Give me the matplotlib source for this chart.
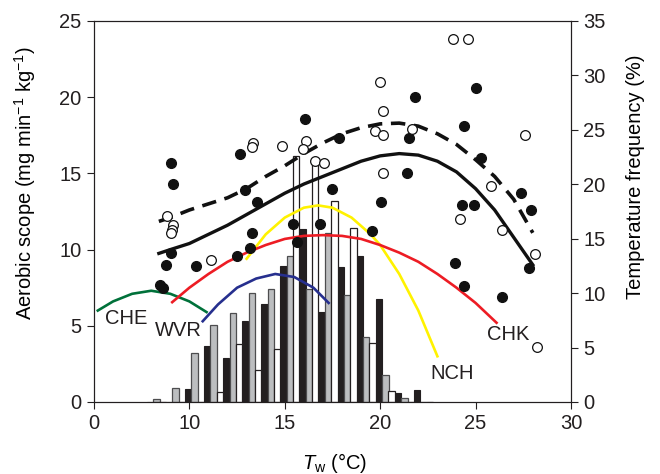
"""Aerobic scope vs water temperature with temperature frequency histogram"""
import matplotlib
matplotlib.use('Agg')
import matplotlib.pyplot as plt

plt.rcParams['font.family'] = ['Liberation Sans', 'DejaVu Sans']
plt.rcParams['mathtext.fontset'] = 'custom'
plt.rcParams['mathtext.rm'] = 'Liberation Sans'
plt.rcParams['mathtext.it'] = 'Liberation Sans:italic'

# temperature frequency (%) per 1 degC bin, three series
bin_temp = [8, 9, 10, 11, 12, 13, 14, 15, 16, 17, 18, 19, 20, 21, 22]
freq_black = [0, 0, 1.2, 5.1, 4.0, 7.4, 9.0, 12.5, 15.9, 8.3, 12.4, 13.4, 9.5, 0.8, 1.1]
freq_gray = [0.25, 1.3, 4.5, 7.1, 8.2, 10.0, 10.4, 13.4, 10.4, 15.5, 9.8, 6.0, 2.5, 0.4, 0]
freq_white = [0, 0, 0, 0.9, 5.3, 2.9, 4.9, 22.6, 22.0, 18.5, 16.0, 5.4, 1.0, 0, 0]

# individual aerobic scope measurements
filled_t = [9.04, 9.14, 9.04, 8.77, 10.35, 8.46, 8.6, 12.5, 12.65, 12.9, 13.54, 13.28, 13.2,
            15.43, 15.64, 16.85, 16.06, 17.84, 17.5, 20.04, 19.57, 21.4, 21.5, 21.8, 25.0,
            24.4, 25.3, 24.3, 24.9, 27.4, 27.9, 23.9, 24.4, 26.4, 27.8]
filled_as = [15.7, 14.3, 9.8, 9.0, 8.9, 7.7, 7.5, 9.6, 16.3, 13.9, 13.15, 11.1, 10.1,
             11.65, 10.5, 11.7, 18.6, 17.3, 14.0, 13.15, 11.25, 15.0, 17.3, 20.0, 20.6,
             18.1, 16.0, 12.9, 12.9, 13.7, 12.6, 9.1, 7.6, 6.9, 8.8]
open_t = [8.83, 9.14, 9.09, 9.04, 11.13, 13.33, 13.28, 14.85, 16.1, 15.95, 16.6, 17.05,
          19.73, 20.15, 20.0, 20.15, 21.67, 20.15, 23.8, 24.6, 27.6, 25.8, 24.2, 26.4,
          28.1, 28.2]
open_as = [12.2, 11.6, 11.3, 11.1, 9.3, 17.0, 16.7, 16.8, 17.1, 16.6, 15.8, 15.7,
           17.8, 17.5, 21.0, 19.1, 17.9, 15.0, 23.8, 23.8, 17.5, 14.2, 12.0, 11.3,
           9.7, 3.6]

# fitted curves for the pooled data
fit_t = [8.4, 9, 10, 11, 12, 13, 14, 15, 16, 17, 18, 19, 20, 21, 22, 23, 24, 25, 26, 27, 28]
fit_solid = [9.75, 10.0, 10.4, 11.0, 11.6, 12.3, 13.0, 13.7, 14.3, 14.8, 15.3, 15.8,
             16.15, 16.3, 16.2, 15.8, 15.1, 14.0, 12.6, 10.8, 9.0]
fit_dashed = [11.85, 12.1, 12.6, 13.0, 13.4, 14.0, 14.8, 15.5, 16.3, 17.0, 17.6, 18.0,
              18.25, 18.3, 18.1, 17.6, 16.9, 15.9, 14.8, 13.3, 11.1]

# population curves
che_t = [5.2, 6, 7, 8, 9, 10, 10.9]
che_as = [6.0, 6.6, 7.1, 7.3, 7.1, 6.6, 5.9]
wvr_t = [10.7, 11.5, 12.5, 13.5, 14.5, 15.5, 16.5, 17.3]
wvr_as = [5.3, 6.4, 7.5, 8.1, 8.4, 8.2, 7.5, 6.5]
nch_t = [13.0, 14, 15, 16, 16.75, 17.5, 18.5, 19.5, 20, 21, 22, 23]
nch_as = [9.4, 11.0, 12.1, 12.75, 12.9, 12.75, 12.1, 11.0, 10.3, 8.4, 6.0, 3.0]
chk_t = [9.1, 10, 11, 12, 13, 14, 15, 16, 17, 18, 19, 20, 21, 22, 23, 24, 25, 26.1]
chk_as = [6.55, 7.5, 8.4, 9.2, 9.8, 10.3, 10.7, 10.9, 10.95, 10.9, 10.7, 10.3, 9.8,
          9.2, 8.4, 7.5, 6.5, 5.2]

x_ticks = [5, 10, 15, 20, 25, 30]
x_ticklabels = ['0', '10', '15', '20', '25', '30']

label_fs = 14.5
bw = 1.0 / 3

fig = plt.figure(figsize=(6.6, 4.74), dpi=100, facecolor='w')
# histogram axis (drawn underneath), its scale shown on the right
axf = fig.add_axes([0.1424, 0.1519, 0.7227, 0.8038])
ax = axf.twinx()

axf.bar([t - 0.07 for t in bin_temp], freq_black, width=bw, color='#231f20',
        edgecolor='#231f20', linewidth=0.8)
axf.bar([t + 0.27 for t in bin_temp], freq_gray, width=bw, color='#bcbec0',
        edgecolor='#4d4d4f', linewidth=0.9)
axf.bar([t + 0.60 for t in bin_temp], freq_white, width=bw, color='white',
        edgecolor='#231f20', linewidth=0.9)

# fits and population curves
ax.plot(fit_t, fit_solid, '-', color='#111111', lw=2.4)
ax.plot(fit_t, fit_dashed, '--', color='#111111', lw=2.6, dashes=(4, 2.4))
ax.plot(che_t, che_as, '-', color='#00713a', lw=1.9)
ax.plot(wvr_t, wvr_as, '-', color='#262f8e', lw=1.9)
ax.plot(nch_t, nch_as, '-', color='#fff200', lw=1.9)
ax.plot(chk_t, chk_as, '-', color='#ed1c24', lw=1.9)

ax.plot(filled_t, filled_as, 'o', color='#111111', ms=7, mec='#111111')
ax.plot(open_t, open_as, 'o', mfc='white', mec='#111111', ms=7, mew=0.9)

ax.text(6.7, 5.5, 'CHE', fontsize=label_fs, ha='center', va='center', color='#231f20')
ax.text(9.4, 4.7, 'WVR', fontsize=label_fs, ha='center', va='center', color='#231f20')
ax.text(23.75, 1.9, 'NCH', fontsize=label_fs, ha='center', va='center', color='#231f20')
ax.text(26.7, 4.4, 'CHK', fontsize=label_fs, ha='center', va='center', color='#231f20')

ax.set_xlim(5, 30)
ax.set_ylim(0, 25)
axf.set_ylim(0, 35)
ax.set_xticks(x_ticks)
ax.set_xticklabels(x_ticklabels)
ax.set_yticks([0, 5, 10, 15, 20, 25])
axf.set_yticks([0, 5, 10, 15, 20, 25, 30, 35])

# aerobic scope on the left, frequency on the right
ax.yaxis.tick_left()
ax.yaxis.set_label_position('left')
axf.yaxis.tick_right()
axf.yaxis.set_label_position('right')

ax.set_ylabel('Aerobic scope (mg min$^{-1}$ kg$^{-1}$)', fontsize=label_fs)
ax.yaxis.set_label_coords(-0.118, 0.575)
axf.set_ylabel('Temperature frequency (%)', fontsize=label_fs)
axf.yaxis.set_label_coords(1.115, 0.59)
axf.set_xlabel(r'$T_\mathrm{w}$ (°C)', fontsize=label_fs)
axf.xaxis.set_label_coords(0.505, -0.128)

for a in (ax, axf):
    a.tick_params(axis='both', direction='out', length=5, width=0.8,
                  labelsize=label_fs, pad=4, colors='#231f20')
    for s in a.spines.values():
        s.set_linewidth(0.8)
        s.set_color('#231f20')

fig.savefig('out.png', dpi=100, facecolor=fig.get_facecolor())
